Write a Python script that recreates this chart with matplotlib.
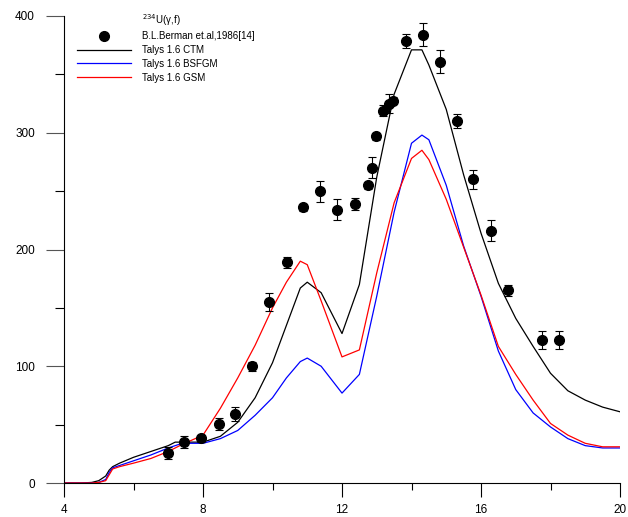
import numpy as np
import matplotlib
matplotlib.use("Agg")
import matplotlib.pyplot as plt
from matplotlib.lines import Line2D

plt.rcParams['font.family'] = ['Liberation Sans', 'DejaVu Sans']

# experimental data, B.L.Berman et al. 1986
exp_e = [7.0, 7.45, 7.94, 8.46, 8.92, 9.41, 9.9, 10.41, 10.89, 11.38, 11.87,
         12.37, 12.74, 12.85, 12.98, 13.19, 13.36, 13.48, 13.84, 14.34, 14.82,
         15.3, 15.78, 16.29, 16.78, 17.76, 18.25]
exp_xs = [25.7, 35, 38.5, 50.5, 59, 100, 155, 189, 236, 250, 234,
          239, 255, 270, 297, 319, 325, 327.5, 379, 384, 361,
          310, 260, 216, 165, 122.5, 122.5]
exp_err = [5, 5, 3, 5, 6, 4, 8, 5, 3, 9, 9,
           5, 3, 9, 3, 5, 8, 3, 6, 10, 10,
           6, 8, 9, 5, 8, 8]

# Talys 1.6 calculations
e_grid = [4.0, 4.5, 4.8, 5.0, 5.2, 5.3, 5.4, 5.6, 6.0, 6.5, 7.0, 7.2, 7.4,
          8.0, 8.5, 9.0, 9.5, 10.0, 10.4, 10.8, 11.0, 11.4, 12.0, 12.5,
          13.0, 13.5, 14.0, 14.3, 14.5, 15.0, 15.5, 16.0, 16.5, 17.0, 17.5,
          18.0, 18.5, 19.0, 19.5, 20.0]
ctm = [0, 0, 0.5, 2, 6, 11, 14, 17, 22, 27, 32, 35, 35,
       35, 40, 52, 73, 103, 135, 167, 172, 163, 128, 170,
       262, 333, 371, 371, 358, 320, 264, 214, 171, 141, 117,
       94, 79, 71, 65, 61]
bsfgm = [0, 0, 0, 0.5, 3, 9, 13, 15, 19, 24, 30, 32, 34,
         34, 38, 45, 58, 73, 90, 104, 107, 100, 77, 93,
         160, 232, 291, 298, 294, 255, 203, 160, 113, 80, 60,
         48, 38, 32, 30, 30]
gsm = [0, 0, 0, 0.5, 2, 7, 12, 14, 17, 21, 27, 30, 33,
       41, 64, 90, 118, 150, 172, 190, 187, 156, 108, 114,
       180, 240, 278, 285, 277, 243, 202, 161, 117, 93, 71,
       51, 41, 34, 31, 31]

fig = plt.figure(figsize=(6.28, 5.17), dpi=100)
ax = fig.add_axes([64/628, 34/517, 556/628, 467/517])

ax.errorbar(exp_e, exp_xs, yerr=exp_err, fmt='o', color='black', ms=7,
            ecolor='black', elinewidth=0.8, capsize=3, capthick=0.8, zorder=3)
ax.plot(e_grid, ctm, color='black', lw=0.9)
ax.plot(e_grid, bsfgm, color='#0000ff', lw=0.9)
ax.plot(e_grid, gsm, color='#ff0000', lw=0.9)

ax.set_xlim(4, 20)
ax.set_ylim(0, 400)
ax.set_xticks([4, 8, 12, 16, 20])
ax.set_xticks([6, 10, 14, 18], minor=True)
ax.set_yticks([0, 100, 200, 300, 400])
ax.set_yticks([50, 150, 250, 350], minor=True)
for s in ['top', 'right']:
    ax.spines[s].set_visible(False)
for s in ['left', 'bottom']:
    ax.spines[s].set_linewidth(0.8)
ax.tick_params(axis='x', which='major', length=10, width=0.8, pad=5, labelsize=8.5)
ax.tick_params(axis='x', which='minor', length=5, width=0.8)
ax.tick_params(axis='y', which='major', length=13, width=0.8, pad=8, labelsize=8.5,
               color='#555555')
ax.tick_params(axis='y', which='minor', length=6.5, width=0.8)

handles = [Line2D([], [], linestyle='none'),
           Line2D([], [], marker='o', color='black', linestyle='none', ms=7),
           Line2D([], [], color='black', lw=0.9),
           Line2D([], [], color='#0000ff', lw=0.9),
           Line2D([], [], color='#ff0000', lw=0.9)]
labels = ['$^{234}$U(γ,f)', 'B.L.Berman et.al,1986[14]', 'Talys 1.6 CTM',
          'Talys 1.6 BSFGM', 'Talys 1.6 GSM']
fig.legend(handles, labels, loc='upper left', bbox_to_anchor=(77/628, 1 - 12/517),
           frameon=False, fontsize=7, borderpad=0, borderaxespad=0,
           handlelength=5.6, handletextpad=1.1, labelspacing=0.38)

fig.savefig('out.png', dpi=100)
